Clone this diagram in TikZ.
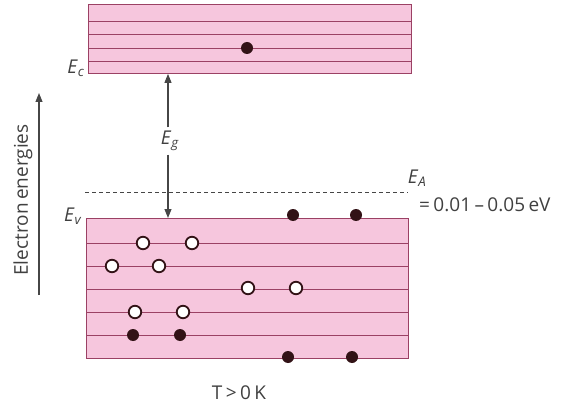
\documentclass[tikz,border=0pt]{standalone}
\usepackage{fontspec}
\setmainfont{Open Sans}
\usetikzlibrary{arrows.meta}
\definecolor{bandfill}{RGB}{246,198,221}
\definecolor{bandline}{RGB}{155,65,100}
\definecolor{dotcol}{RGB}{50,18,22}
\definecolor{arrcol}{RGB}{70,70,70}
\newcommand{\lblfont}{\fontsize{19}{22}\selectfont\spaceskip=0.18em plus 0.05em\relax}
\tikzset{
  band/.style={draw=bandline, fill=bandfill, line width=0.9pt, inner sep=0pt, anchor=north west},
  level/.style={draw=bandline, line width=1pt},
  elec/.style={circle, fill=dotcol, inner sep=0pt, minimum size=12pt},
  hole/.style={circle, draw=dotcol, fill=white, line width=1.8pt, inner sep=0pt, minimum size=12.5pt},
  lbl/.style={font=\lblfont, text=black!75, inner sep=1pt},
  garrow/.style={draw=arrcol, line width=1.1pt, -{Triangle[length=9pt,width=7pt]}},
}
\newcommand{\itE}[1]{\textit{E}\textsubscript{\textit{#1}}}
\begin{document}
\begin{tikzpicture}[x=1pt,y=-1pt]
\useasboundingbox (0,0) rectangle (567,406);
% conduction band
\node[band, minimum width=323pt, minimum height=69pt] (cb) at (88,4) {};
\foreach \yy in {22,35,49,62} \draw[level] (cb.west |- 0,\yy) -- (cb.east |- 0,\yy);
\node[elec] (e0) at (247,48) {};
% valence band
\node[band, minimum width=322pt, minimum height=140pt] (vb) at (86,218) {};
\foreach \yy in {243,266,289,312,335} \draw[level] (vb.west |- 0,\yy) -- (vb.east |- 0,\yy);
% electrons
\node[elec] (e1) at (293,215) {};
\node[elec] (e2) at (356,215) {};
\node[elec] (e3) at (288,357) {};
\node[elec] (e4) at (352,357) {};
\node[elec] (e5) at (133,335) {};
\node[elec] (e6) at (180,335) {};
% holes
\node[hole] (h1) at (143,243) {};
\node[hole] (h2) at (192,243) {};
\node[hole] (h3) at (112,266) {};
\node[hole] (h4) at (159,266) {};
\node[hole] (h5) at (248,288) {};
\node[hole] (h6) at (296,288) {};
\node[hole] (h7) at (135,312) {};
\node[hole] (h8) at (183,312) {};
% acceptor level
\coordinate (da) at (85,192);
\coordinate (db) at (408,192);
\draw[arrcol, line width=1pt, dash pattern=on 4pt off 3pt] (da) -- (db);
% band gap arrow
\node[lbl, minimum height=27pt] (eg) at (170,141) {\itE{g}};
\draw[garrow] (eg.north -| 168,0) -- (168,0 |- cb.south);
\draw[garrow] (eg.south -| 168,0) -- (168,0 |- vb.north);
% labels
\node[lbl] (ec) at (76,68) {\itE{c}};
\node[lbl] (ev) at (73,216) {\itE{v}};
\node[lbl] (ea) at (417,178) {\itE{A}};
\node[lbl, anchor=west] (val) at (418,205) {= 0.01 – 0.05 eV};
\node[lbl] (temp) at (239,393) {T > 0 K};
% energy axis
\coordinate (ab) at (39,295);
\coordinate (at) at (39,93);
\draw[garrow] (ab) -- (at);
\node[lbl, rotate=90] (axis) at (23,200) {Electron energies};
\end{tikzpicture}
\end{document}
